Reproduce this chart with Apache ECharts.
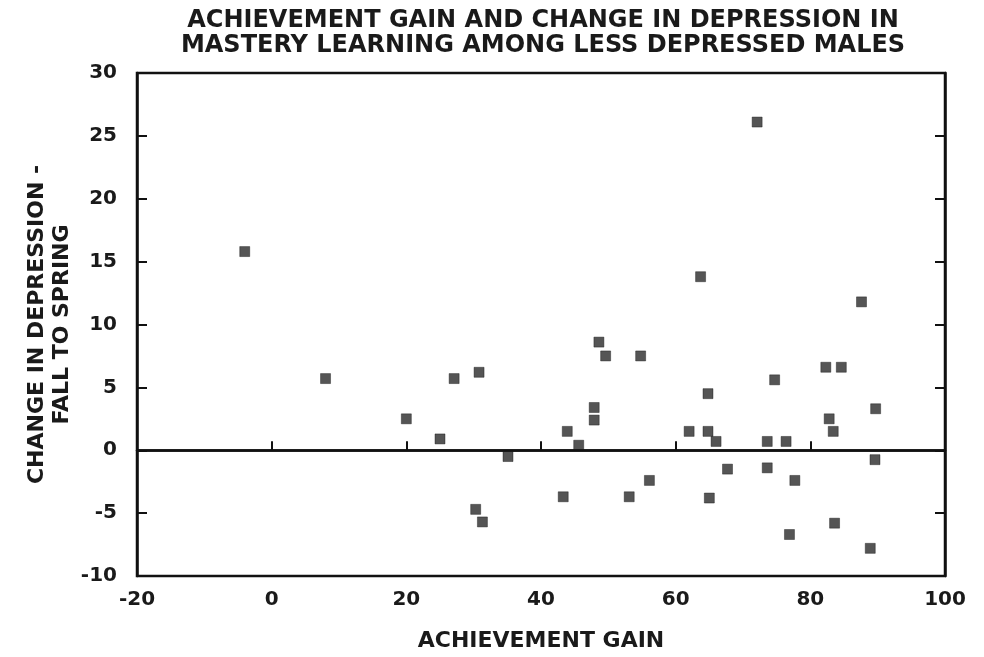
<!DOCTYPE html>
<html>
<head>
<meta charset="utf-8">
<script src="https://cdn.jsdelivr.net/npm/echarts@6/dist/echarts.min.js"></script>
<style>html,body{margin:0;padding:0;background:#fff}#c{width:984px;height:657px}</style>
</head>
<body>
<div id="c"></div>
<script>
// Achievement gain (x) and change in depression (y)
const achievementGain = [-4, 8, 20, 25, 27.1, 30.8, 30.3, 31.3, 35.1, 43.3, 43.9, 45.6, 47.9, 47.9, 48.6, 49.6, 53.1, 54.8, 56.1,
  62, 63.7, 64.8, 64.8, 65, 66, 67.7, 72.1, 73.6, 73.6, 74.7, 76.4, 76.9, 77.7, 82.3, 82.8, 83.4, 83.6, 84.6, 87.6, 88.9, 89.6, 89.7];
const depressionChange = [15.8, 5.7, 2.5, 0.9, 5.7, 6.2, -4.7, -5.7, -0.5, -3.7, 1.5, 0.4, 3.4, 2.4, 8.6, 7.5, -3.7, 7.5, -2.4,
  1.5, 13.8, 4.5, 1.5, -3.8, 0.7, -1.5, 26.1, 0.7, -1.4, 5.6, 0.7, -6.7, -2.4, 6.6, 2.5, 1.5, -5.8, 6.6, 11.8, -7.8, -0.75, 3.3];
const xTicks = [-20, 0, 20, 40, 60, 80, 100];
const yTicks = [-10, -5, 0, 5, 10, 15, 20, 25, 30];

const points = achievementGain.map((x, i) => [x, depressionChange[i]]);
const FONT = 'DejaVu Sans';
const chart = echarts.init(document.getElementById('c'), null, {renderer: 'canvas'});
const axisLineStyle = {color: '#111', width: 2.5};
const tickStyle = {color: '#111', width: 2};
chart.setOption({
  animation: false,
  backgroundColor: '#fff',
  title: {
    text: 'ACHIEVEMENT GAIN AND CHANGE IN DEPRESSION IN\nMASTERY LEARNING AMONG LESS DEPRESSED MALES',
    left: 538, top: 3, textAlign: 'center',
    textStyle: {fontFamily: FONT, fontWeight: 'bold', fontSize: 24, color: '#1a1a1a', lineHeight: 25}
  },
  grid: {left: 137, right: 39, top: 73, bottom: 75, show: true, borderColor: '#111', borderWidth: 2.5},
  xAxis: {
    type: 'value', min: xTicks[0], max: xTicks[xTicks.length - 1], interval: 20,
    name: 'ACHIEVEMENT GAIN', nameLocation: 'middle', nameGap: 54, nameMoveOverlap: false,
    nameTextStyle: {fontFamily: FONT, fontWeight: 'bold', fontSize: 22, color: '#1a1a1a'},
    axisLine: {show: true, lineStyle: axisLineStyle},
    axisTick: {show: true, inside: true, length: 9, lineStyle: tickStyle},
    axisLabel: {fontFamily: FONT, fontWeight: 'bold', fontSize: 20, color: '#1a1a1a', margin: 14},
    splitLine: {show: false}
  },
  yAxis: [{
    type: 'value', min: yTicks[0], max: yTicks[yTicks.length - 1], interval: 5,
    name: 'CHANGE IN DEPRESSION -\nFALL TO SPRING', nameLocation: 'middle', nameRotate: 90, nameGap: 62, nameMoveOverlap: false,
    nameTextStyle: {fontFamily: FONT, fontWeight: 'bold', fontSize: 22, color: '#1a1a1a', lineHeight: 25},
    axisLine: {show: true, onZero: false, lineStyle: axisLineStyle},
    axisTick: {show: true, inside: true, length: 10, lineStyle: tickStyle},
    axisLabel: {fontFamily: FONT, fontWeight: 'bold', fontSize: 20, color: '#1a1a1a', margin: 20},
    splitLine: {show: false}
  }, {
    type: 'value', position: 'right', min: yTicks[0], max: yTicks[yTicks.length - 1], interval: 5,
    axisLine: {show: true, onZero: false, lineStyle: axisLineStyle},
    axisTick: {show: true, inside: true, length: 10, lineStyle: tickStyle},
    axisLabel: {show: false},
    splitLine: {show: false}
  }],
  series: [{
    type: 'scatter',
    data: points,
    symbol: 'rect',
    symbolSize: 10,
    itemStyle: {color: '#2a2a2a', borderColor: '#111', borderWidth: 0.5},
    markLine: {
      silent: true, symbol: 'none', label: {show: false},
      lineStyle: {color: '#111', width: 2.5, type: 'solid'},
      data: [{yAxis: 0}]
    }
  }]
});
</script>
</body>
</html>
